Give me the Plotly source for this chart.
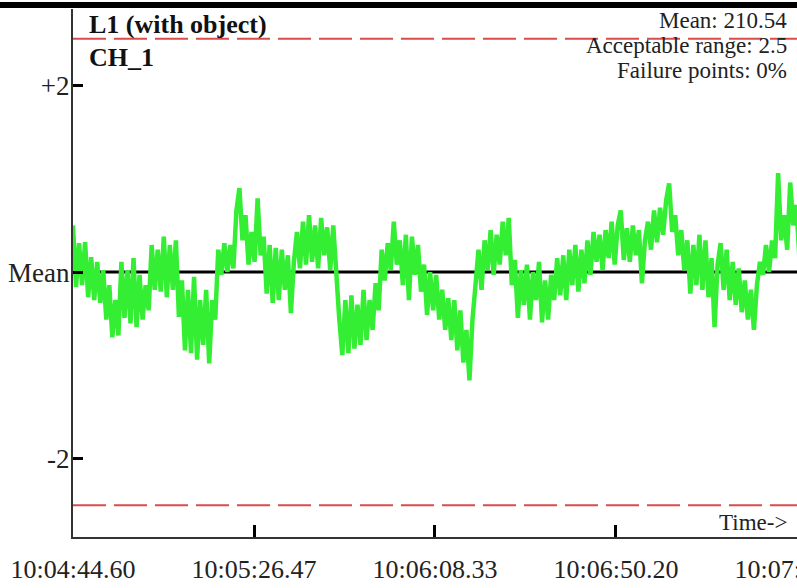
import plotly.graph_objects as go

# --- data (deviation from mean, in sigma-like units) ---
sample_interval_s = 0.7
deviation = [
    0.50, -0.16, 0.31, -0.14, 0.32, -0.27, 0.16, -0.30, 0.11, -0.33,
    0.02, -0.51, -0.14, -0.70, -0.30, -0.68, 0.11, -0.49, 0.02, -0.55,
    0.15, -0.59, -0.03, -0.51, -0.14, -0.41, 0.29, -0.19, 0.24, -0.21,
    0.38, -0.27, 0.29, -0.19, 0.34, -0.48, -0.09, -0.84, -0.19, -0.87,
    -0.05, -0.94, -0.30, -0.78, -0.19, -0.98, -0.30, -0.51, 0.24, -0.03,
    0.31, 0.00, 0.29, 0.04, 0.66, 0.90, 0.34, 0.61, 0.08, 0.43,
    0.11, 0.79, 0.18, 0.38, -0.23, 0.29, -0.33, 0.26, -0.30, 0.24,
    -0.19, 0.18, -0.44, 0.11, 0.43, 0.04, 0.54, 0.08, 0.61, 0.11,
    0.50, 0.04, 0.58, 0.18, 0.48, 0.02, 0.50, -0.09, -0.51, -0.89,
    -0.30, -0.87, -0.25, -0.82, -0.35, -0.78, -0.19, -0.73, -0.30, -0.62,
    -0.12, -0.41, 0.24, -0.09, 0.31, 0.02, 0.54, 0.08, 0.34, -0.14,
    0.40, -0.30, 0.38, -0.03, 0.29, -0.21, 0.08, -0.46, 0.00, -0.41,
    -0.03, -0.51, -0.19, -0.62, -0.28, -0.73, -0.30, -0.84, -0.41, -0.97,
    -0.62, -1.16, -0.51, -0.14, 0.24, -0.19, 0.34, 0.02, 0.45, -0.03,
    0.40, 0.08, 0.54, 0.18, 0.58, -0.14, 0.13, -0.49, 0.02, -0.35,
    0.08, -0.51, 0.00, -0.30, 0.11, -0.54, -0.09, -0.51, -0.03, -0.30,
    0.15, -0.25, 0.18, -0.30, 0.24, -0.14, 0.29, -0.21, 0.24, -0.12,
    0.34, -0.03, 0.43, 0.11, 0.40, 0.02, 0.45, 0.15, 0.54, 0.08,
    0.50, 0.66, 0.13, 0.47, 0.11, 0.50, 0.18, 0.45, -0.12, 0.34,
    0.54, 0.24, 0.66, 0.32, 0.69, 0.40, 0.77, 0.95, 0.43, 0.61,
    0.18, 0.45, 0.02, 0.34, -0.23, 0.29, -0.14, 0.40, -0.19, 0.34,
    -0.27, 0.15, -0.59, 0.08, 0.31, -0.19, 0.24, -0.30, 0.11, -0.35,
    0.04, -0.43, -0.09, -0.51, -0.19, -0.62, -0.14, 0.11, -0.03, 0.29,
    0.00, 0.34, 0.15, 1.06, 0.34, 0.61, 0.24, 0.96, 0.50, 0.72,
    0.18, 0.56,
]
time_s = [i * sample_interval_s for i in range(len(deviation))]

tick_seconds = [0.0, 41.87, 83.73, 125.60, 167.47]
tick_labels = ["10:04:44.60", "10:05:26.47", "10:06:08.33", "10:06:50.20", "10:07:32.07"]
y_tick_vals = [2, 0, -2]
y_tick_text = ["+2", "Mean", "-2"]
acceptable_range = 2.5
x_end = 167.47
y_range = [-2.84, 2.82]

title_line1 = "L1 (with object)"
title_line2 = "CH_1"
stats = ["Mean: 210.54", "Acceptable range: 2.5", "Failure points: 0%"]

FONT = "Liberation Serif, Times New Roman, serif"

fig = go.Figure()

# limits (dashed red)
for lim in (acceptable_range, -acceptable_range):
    fig.add_trace(go.Scatter(
        x=[0, x_end], y=[lim, lim], mode="lines",
        line=dict(color="#d94c4c", width=2, dash="33px,8px"),
        hoverinfo="skip", showlegend=False,
    ))

# mean line
fig.add_trace(go.Scatter(
    x=[0, x_end], y=[0, 0], mode="lines",
    line=dict(color="black", width=3),
    hoverinfo="skip", showlegend=False,
))

# signal
fig.add_trace(go.Scatter(
    x=time_s, y=deviation, mode="lines",
    line=dict(color="#33ee33", width=4.5),
    showlegend=False,
))

fig.update_layout(
    width=797, height=588,
    margin=dict(l=73, r=0, t=9, b=51),
    paper_bgcolor="white", plot_bgcolor="white",
    font=dict(family=FONT, color="#222222"),
    xaxis=dict(
        range=[0, x_end], tickvals=tick_seconds, ticktext=tick_labels,
        showgrid=False, zeroline=False, automargin=False,
        showline=True, linecolor="#333333", linewidth=2,
        ticks="inside", ticklen=12, tickwidth=3, tickcolor="black",
        tickfont=dict(size=26, family=FONT, color="#222222"),
        ticklabelstandoff=8, ticklabeloverflow="allow",
    ),
    yaxis=dict(
        range=y_range, tickvals=y_tick_vals, ticktext=y_tick_text,
        showgrid=False, zeroline=False, automargin=False,
        showline=True, linecolor="#333333", linewidth=2,
        ticks="inside", ticklen=10, tickwidth=3, tickcolor="black",
        tickfont=dict(size=27, family=FONT, color="#222222"),
        ticklabelstandoff=-4,
    ),
)

# thick top border
fig.add_shape(type="line", xref="paper", yref="paper",
              x0=-0.11, x1=1.0, y0=1.0076, y1=1.0076,
              line=dict(color="black", width=6))

fig.add_annotation(text="<b>" + title_line1 + "</b>", xref="paper", yref="paper",
                   x=0.0193, y=0.970, xanchor="left", yanchor="middle",
                   showarrow=False, font=dict(size=26, family=FONT, color="#111111"))
fig.add_annotation(text="<b>" + title_line2 + "</b>", xref="paper", yref="paper",
                   x=0.0193, y=0.909, xanchor="left", yanchor="middle",
                   showarrow=False, font=dict(size=26, family=FONT, color="#111111"))

for s, yy in zip(stats, [0.979, 0.930, 0.883]):
    fig.add_annotation(text=s, xref="paper", yref="paper",
                       x=0.989, y=yy, xanchor="right", yanchor="middle",
                       showarrow=False, font=dict(size=23, family=FONT, color="#222222"))

fig.add_annotation(text="Time->", xref="paper", yref="paper",
                   x=0.989, y=0.028, xanchor="right", yanchor="middle",
                   showarrow=False, font=dict(size=23, family=FONT, color="#222222"))

fig.write_html("out.html", config={"displayModeBar": False},
               post_script="document.body.style.margin='0';")
